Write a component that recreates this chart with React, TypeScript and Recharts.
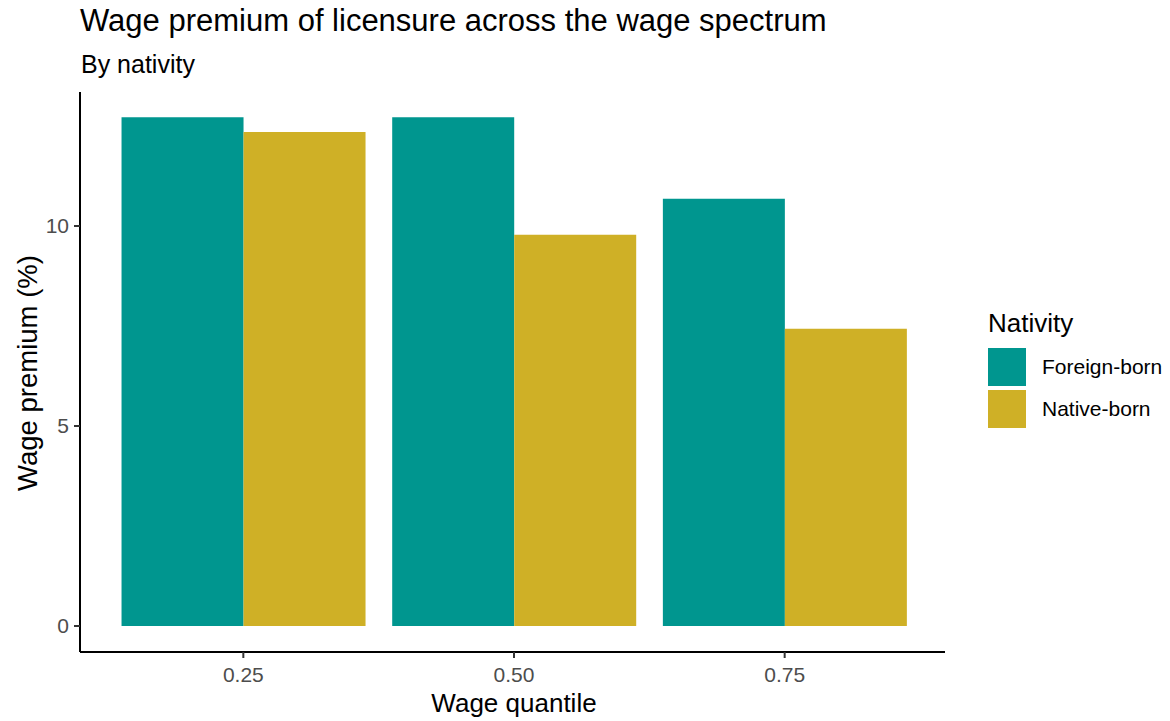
import { BarChart, Bar, XAxis, YAxis, Legend } from 'recharts'

const quantiles = ['0.25', '0.50', '0.75']
const foreignBorn = [12.72, 12.72, 10.68]
const nativeBorn = [12.35, 9.78, 7.43]
const yTicks = [0, 5, 10]

const TEAL = '#00968F'
const GOLD = '#CFB026'
const FONT = '"Liberation Sans", Arial, sans-serif'

const data = quantiles.map((q, i) => ({
  quantile: q,
  foreign: foreignBorn[i],
  native: nativeBorn[i],
}))

const legendItems = [
  { label: 'Foreign-born', color: TEAL },
  { label: 'Native-born', color: GOLD },
]

function NativityLegend() {
  return (
    <div style={{ position: 'relative', width: 180, height: 130, fontFamily: FONT }}>
      <div style={{ position: 'absolute', left: 0, top: 0, fontSize: 26, color: '#000', whiteSpace: 'nowrap' }}>
        Nativity
      </div>
      {legendItems.map((it, i) => (
        <div key={it.label}>
          <div
            style={{
              position: 'absolute',
              left: 0,
              top: 40 + i * 42,
              width: 38,
              height: 38,
              background: it.color,
            }}
          />
          <div
            style={{
              position: 'absolute',
              left: 54,
              top: 40 + i * 42 + 19,
              transform: 'translateY(-50%)',
              fontSize: 21,
              color: '#000',
              whiteSpace: 'nowrap',
            }}
          >
            {it.label}
          </div>
        </div>
      ))}
    </div>
  )
}

export default function App() {
  return (
    <div style={{ position: 'relative', width: 1170, height: 721, background: '#fff', fontFamily: FONT }}>
      <style>{`body{margin:0}`}</style>
      <div style={{ position: 'absolute', left: 80, top: 3, fontSize: 31, color: '#000', whiteSpace: 'nowrap' }}>
        Wage premium of licensure across the wage spectrum
      </div>
      <div style={{ position: 'absolute', left: 81, top: 50, fontSize: 25, color: '#000', whiteSpace: 'nowrap' }}>
        By nativity
      </div>
      <div
        style={{
          position: 'absolute',
          left: 28,
          top: 373,
          fontSize: 27.5,
          color: '#000',
          whiteSpace: 'nowrap',
          transform: 'translate(-50%, -50%) rotate(-90deg)',
        }}
      >
        Wage premium (%)
      </div>
      <div
        style={{
          position: 'absolute',
          left: 514,
          top: 703,
          fontSize: 26,
          color: '#000',
          whiteSpace: 'nowrap',
          transform: 'translate(-50%, -50%)',
        }}
      >
        Wage quantile
      </div>
      <BarChart
        width={1170}
        height={721}
        data={data}
        margin={{ top: 92, right: 225, bottom: 29, left: 0 }}
        barCategoryGap="5%"
        barGap={0}
        style={{ position: 'absolute', left: 0, top: 0 }}
      >
        <XAxis
          dataKey="quantile"
          height={40}
          padding={{ left: 28, right: 25 }}
          axisLine={{ stroke: '#000', strokeWidth: 2 }}
          tickLine={{ stroke: '#333', strokeWidth: 2 }}
          tickSize={6}
          tickMargin={9}
          tick={{ fontSize: 21, fill: '#4D4D4D', fontFamily: FONT }}
        />
        <YAxis
          width={80}
          domain={[-0.65, 13.35]}
          ticks={yTicks}
          allowDataOverflow
          axisLine={{ stroke: '#000', strokeWidth: 2 }}
          tickLine={{ stroke: '#333', strokeWidth: 2 }}
          tickSize={6}
          tickMargin={5}
          tick={{ fontSize: 21, fill: '#4D4D4D', fontFamily: FONT }}
        />
        <Legend
          layout="horizontal"
          align="center"
          verticalAlign="middle"
          content={() => <NativityLegend />}
          wrapperStyle={{ position: 'absolute', left: 988, top: 308, width: 180, height: 130 }}
        />
        <Bar dataKey="foreign" name="Foreign-born" fill={TEAL} isAnimationActive={false} />
        <Bar dataKey="native" name="Native-born" fill={GOLD} isAnimationActive={false} />
      </BarChart>
    </div>
  )
}
